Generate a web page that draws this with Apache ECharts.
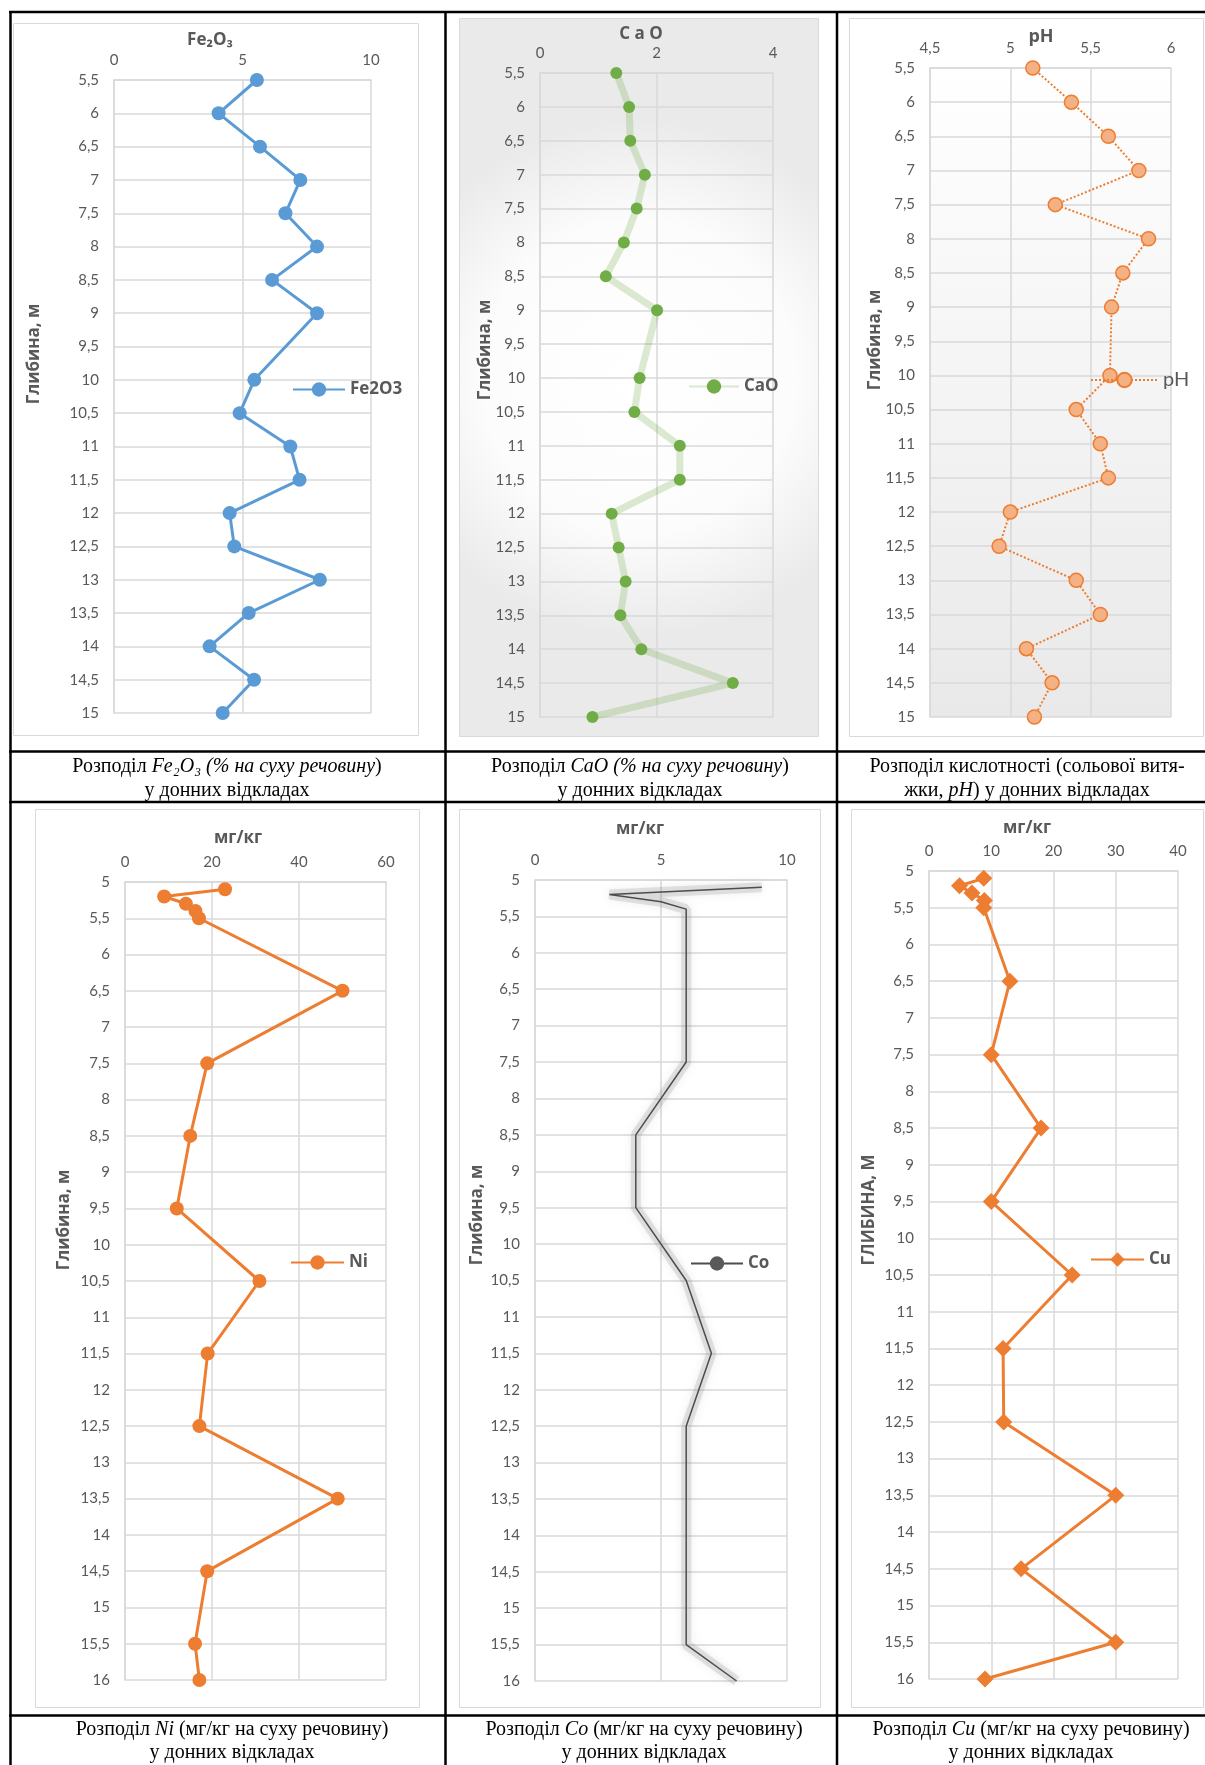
<!DOCTYPE html>
<html>
<head>
<meta charset="utf-8">
<script src="https://cdn.jsdelivr.net/npm/echarts@6.0.0/dist/echarts.min.js"></script>
<style>
  html, body { margin: 0; padding: 0; background: #fff; }
  #chart { width: 1205px; height: 1765px; }
</style>
</head>
<body>
<div id="chart"></div>
<script>
// depth of samples, m
const depthTop = [5.5, 6, 6.5, 7, 7.5, 8, 8.5, 9, 10, 10.5, 11, 11.5, 12, 12.5, 13, 13.5, 14, 14.5, 15];
const depthMetal = [5.1, 5.2, 5.3, 5.4, 5.5, 6.5, 7.5, 8.5, 9.5, 10.5, 11.5, 12.5, 13.5, 14.5, 15.5, 16];

// % on dry matter
const fe2o3 = [5.56, 4.07, 5.68, 7.25, 6.67, 7.9, 6.15, 7.9, 5.46, 4.89, 6.86, 7.22, 4.5, 4.68, 8.01, 5.24, 3.72, 5.45, 4.23];
const cao = [1.31, 1.53, 1.55, 1.8, 1.66, 1.44, 1.13, 2.01, 1.71, 1.62, 2.4, 2.4, 1.23, 1.35, 1.47, 1.38, 1.74, 3.31, 0.9];
const ph = [5.14, 5.38, 5.61, 5.8, 5.28, 5.86, 5.7, 5.63, 5.62, 5.41, 5.56, 5.61, 5.0, 4.93, 5.41, 5.56, 5.1, 5.26, 5.15];

// mg/kg
const ni = [23, 9, 14, 16.2, 17, 50, 18.9, 15, 11.9, 30.9, 19, 17.1, 48.9, 18.9, 16.1, 17.1];
const co = [9, 2.95, 5, 6, 6, 6, 6, 4, 4, 6, 7, 6, 6, 6, 6, 8];
const cu = [8.8, 4.9, 6.9, 8.9, 8.8, 13, 10, 18, 10, 23, 11.9, 12, 30, 14.8, 30, 9];

// axis ticks
const feTicks = [0, 5, 10];
const caoTicks = [0, 2, 4];
const phTicks = [4.5, 5, 5.5, 6];
const niTicks = [0, 20, 40, 60];
const coTicks = [0, 5, 10];
const cuTicks = [0, 10, 20, 30, 40];
const depthRangeTop = [5.5, 15];
const depthRangeMetal = [5, 16];
const depthStep = 0.5;

const captions = [
  ['{n|Розподіл }{i|Fe₂O₃ (% на суху речовину}{n|)}', '{n|у донних відкладах}'],
  ['{n|Розподіл }{i|CaO (% на суху речовину}{n|)}', '{n|у донних відкладах}'],
  ['{n|Розподіл кислотності (сольової витя-}', '{n|жки, }{i|pH}{n|) у донних відкладах}'],
  ['{n|Розподіл }{i|Ni}{n| (мг/кг на суху речовину)}', '{n|у донних відкладах}'],
  ['{n|Розподіл }{i|Co}{n| (мг/кг на суху речовину)}', '{n|у донних відкладах}'],
  ['{n|Розподіл }{i|Cu}{n| (мг/кг на суху речовину)}', '{n|у донних відкладах}']
];

const FONT = 'Lato, "Open Sans", sans-serif';
const BOLD_FONT = '"Open Sans", "Noto Sans", sans-serif';
const SERIF = '"Liberation Serif", "Times New Roman", serif';
const GRAY = '#595959';
const LIGHT = '#d9d9d9';
const ORANGE = '#ED7D31';

const comma = (v) => String(+Number(v).toFixed(2)).replace('.', ',');

const panels = [
  {
    name: 'Fe2O3', title: 'Fe₂O₃', yName: 'Глибина, м', depth: depthTop, values: fe2o3,
    xTicks: feTicks, yRange: depthRangeTop,
    grid: [114, 80, 257, 633], box: [13, 23, 405, 712],
    titlePos: [210, 40], yNamePos: [34, 354], legend: [292, 381, 52],
    line: { color: '#5B9BD5', width: 3 }, item: { color: '#5B9BD5' }, symbol: 'circle', size: 14
  },
  {
    name: 'CaO', title: 'C a O', yName: 'Глибина, м', depth: depthTop, values: cao,
    xTicks: caoTicks, yRange: depthRangeTop,
    grid: [540, 73, 233, 644], box: [459, 18, 359, 718], radial: true,
    titlePos: [641, 34], yNamePos: [485, 350], legend: [688, 378, 50],
    line: { color: 'rgba(112,173,71,0.25)', width: 7 }, item: { color: '#70AD47' }, symbol: 'circle', size: 12
  },
  {
    name: 'pH', title: 'pH', yName: 'Глибина, м', depth: depthTop, values: ph,
    xTicks: phTicks, yRange: depthRangeTop,
    grid: [930, 68, 241, 649], box: [849, 18, 354, 718], plotGradient: true,
    titlePos: [1041, 37], yNamePos: [875, 340], legend: [1090, 370, 67], legendPlain: true,
    line: { color: ORANGE, width: 2, type: 'dotted' },
    item: { color: '#F4B183', borderColor: ORANGE, borderWidth: 1.5 }, symbol: 'circle', size: 14
  },
  {
    name: 'Ni', title: 'мг/кг', yName: 'Глибина, м', depth: depthMetal, values: ni,
    xTicks: niTicks, yRange: depthRangeMetal,
    grid: [125, 882, 261, 798], box: [35, 809, 384, 898],
    titlePos: [238, 838], yNamePos: [64, 1220], legend: [290, 1254, 53],
    line: { color: ORANGE, width: 3 }, item: { color: ORANGE }, symbol: 'circle', size: 14
  },
  {
    name: 'Co', title: 'мг/кг', yName: 'Глибина, м', depth: depthMetal, values: co,
    xTicks: coTicks, yRange: depthRangeMetal,
    grid: [535, 880, 252, 801], box: [459, 809, 361, 898],
    titlePos: [640, 829], yNamePos: [477, 1215], legend: [690, 1255, 52],
    line: { color: '#4d4d4d', width: 1.5 },
    glow: { color: 'rgba(128,128,128,0.2)', width: 10, shadowColor: 'rgba(100,100,100,0.5)', shadowBlur: 9 },
    item: { color: GRAY }, symbol: 'circle', size: 12, hideSymbol: true
  },
  {
    name: 'Cu', title: 'мг/кг', yName: 'ГЛИБИНА, М', depth: depthMetal, values: cu,
    xTicks: cuTicks, yRange: depthRangeMetal,
    grid: [929, 871, 249, 808], box: [851, 809, 352, 898],
    titlePos: [1027, 828], yNamePos: [869, 1210], legend: [1090, 1251, 53],
    line: { color: ORANGE, width: 3 }, item: { color: ORANGE }, symbol: 'diamond', size: 17
  }
];

const captionPos = [
  [227, 778.5], [640, 778.5], [1027, 778.5],
  [232, 1741], [644, 1741], [1031, 1741]
];

const chart = echarts.init(document.getElementById('chart'));

const graphics = [];

// table frame
const hLines = [12, 751.5, 802, 1715.5];
const vLines = [10.5, 445.5, 837];
hLines.forEach((y) => graphics.push({
  type: 'line', z: 60, silent: true,
  shape: { x1: 9, y1: y, x2: 1210, y2: y },
  style: { stroke: '#000', lineWidth: 2.5 }
}));
vLines.forEach((x) => graphics.push({
  type: 'line', z: 60, silent: true,
  shape: { x1: x, y1: 11, x2: x, y2: 1770 },
  style: { stroke: '#000', lineWidth: 2.5 }
}));

panels.forEach((p) => {
  const fill = p.radial
    ? new echarts.graphic.RadialGradient(0.5, 0.5, 0.72, [
        { offset: 0, color: '#ffffff' },
        { offset: 0.6, color: '#fcfcfc' },
        { offset: 1, color: '#eaeaea' }
      ])
    : '#ffffff';
  graphics.push({
    type: 'rect', z: -10, silent: true,
    shape: { x: p.box[0] + 0.5, y: p.box[1] + 0.5, width: p.box[2], height: p.box[3] },
    style: { fill: fill, stroke: LIGHT, lineWidth: 1 }
  });
  graphics.push({
    type: 'text', z: 50, silent: true, x: p.titlePos[0], y: p.titlePos[1],
    style: {
      text: p.title, align: 'center', verticalAlign: 'middle',
      fontFamily: BOLD_FONT, fontWeight: 'bold', fontSize: p.name === 'pH' ? 18 : 17, fill: GRAY
    }
  });
  graphics.push({
    type: 'text', z: 50, silent: true, x: p.yNamePos[0], y: p.yNamePos[1],
    rotation: Math.PI / 2,
    style: {
      text: p.yName, align: 'center', verticalAlign: 'middle',
      fontFamily: BOLD_FONT, fontWeight: 'bold', fontSize: 17, fill: GRAY
    }
  });
});

const richCaption = {
  n: { fontFamily: SERIF, fontSize: 20, fill: '#000', lineHeight: 23.5 },
  i: { fontFamily: SERIF, fontSize: 20, fontStyle: 'italic', fill: '#000', lineHeight: 23.5 }
};
captions.forEach((c, i) => {
  graphics.push({
    type: 'text', z: 50, silent: true, x: captionPos[i][0], y: captionPos[i][1],
    style: {
      text: c.join('\n'), rich: richCaption, align: 'center', verticalAlign: 'middle',
      fill: '#000', fontFamily: SERIF, fontSize: 20
    }
  });
});

const series = [];
panels.forEach((p, i) => {
  const data = p.depth.map((d, k) => [p.values[k], d]);
  if (p.glow) {
    // soft halo under the Co line
    series.push({
      name: p.name + ' glow', type: 'line', xAxisIndex: i, yAxisIndex: i,
      data: data, symbol: 'none', silent: true, lineStyle: p.glow, z: 2
    });
  }
  series.push({
    name: p.name, type: 'line',
    xAxisIndex: i, yAxisIndex: i,
    data: data,
    symbol: p.symbol, symbolSize: p.size,
    showSymbol: !p.hideSymbol,
    lineStyle: p.line, itemStyle: p.item,
    z: 3
  });
});

const option = {
  animation: false,
  backgroundColor: '#ffffff',
  graphic: { elements: graphics },
  grid: panels.map((p) => ({
    left: p.grid[0], top: p.grid[1], width: p.grid[2], height: p.grid[3],
    containLabel: false, outerBoundsMode: 'none',
    show: !!p.plotGradient, borderWidth: 0,
    backgroundColor: p.plotGradient
      ? new echarts.graphic.LinearGradient(0, 0, 0, 1, [
          { offset: 0, color: '#ffffff' },
          { offset: 1, color: '#e9e9e9' }
        ])
      : 'transparent'
  })),
  xAxis: panels.map((p, i) => ({
    type: 'value', gridIndex: i, position: 'top',
    min: p.xTicks[0], max: p.xTicks[p.xTicks.length - 1], interval: p.xTicks[1] - p.xTicks[0],
    axisLine: { show: true, onZero: false, lineStyle: { color: LIGHT, width: 1.5 } },
    axisTick: { show: false },
    axisLabel: {
      color: GRAY, fontSize: 15, fontFamily: FONT, margin: 12,
      showMinLabel: true, showMaxLabel: true, formatter: comma
    },
    splitLine: { show: true, lineStyle: { color: LIGHT, width: 1.5 } }
  })),
  yAxis: panels.map((p, i) => ({
    type: 'value', gridIndex: i, inverse: true,
    min: p.yRange[0], max: p.yRange[1], interval: depthStep,
    axisLine: { show: true, onZero: false, lineStyle: { color: LIGHT, width: 1.5 } },
    axisTick: { show: false },
    axisLabel: {
      color: GRAY, fontSize: 15, fontFamily: FONT, margin: 15,
      showMinLabel: true, showMaxLabel: true, formatter: comma
    },
    splitLine: { show: true, lineStyle: { color: LIGHT, width: 1.5 } }
  })),
  legend: panels.map((p) => ({
    data: [p.name], selectedMode: false,
    left: p.legend[0], top: p.legend[1],
    itemWidth: p.legend[2], itemHeight: 18, padding: 0,
    textStyle: {
      color: GRAY,
      fontFamily: p.legendPlain ? FONT : BOLD_FONT,
      fontSize: p.legendPlain ? 20 : 17,
      fontWeight: p.legendPlain ? 'normal' : 'bold'
    }
  })),
  series: series
};

chart.setOption(option);
window.addEventListener('resize', () => chart.resize());
</script>
</body>
</html>
